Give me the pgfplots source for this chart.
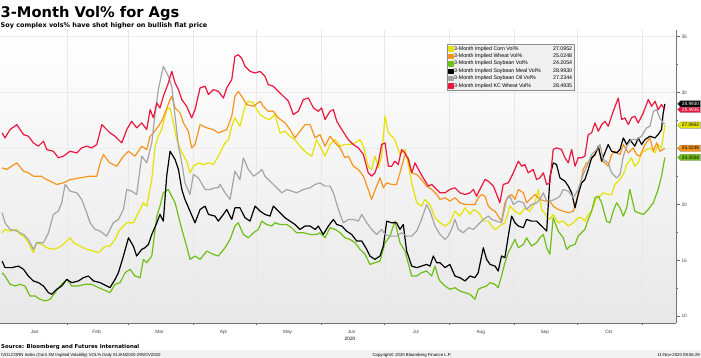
\documentclass[border=0pt]{standalone}
\usepackage{fontspec}
\setmainfont{Liberation Sans}
\newfontfamily\dejavu{DejaVu Sans}
\usepackage{pgfplots}
\pgfplotsset{compat=1.18}
\usetikzlibrary{shapes.symbols}
\definecolor{cornc}{RGB}{228,228,0}
\definecolor{wheatc}{RGB}{247,148,29}
\definecolor{soyc}{RGB}{112,190,24}
\definecolor{mealc}{RGB}{0,0,0}
\definecolor{oilc}{RGB}{165,165,165}
\definecolor{kcc}{RGB}{234,22,62}
\tikzset{tag/.style={signal, signal to=west, anchor=west, inner xsep=1.2bp, inner ysep=0.6bp, minimum height=6.5bp, font=\fontsize{4.8}{5}\selectfont, xshift=1.2bp}}
\begin{document}
\begin{tikzpicture}
\path[use as bounding box] (0,0) rectangle (701bp,-358bp);
\fill[black!5] (0,-349.5bp) rectangle (701bp,-358bp);
\node[anchor=base west, inner sep=0] at (0.5bp,-17bp) {\dejavu\bfseries\fontsize{14.7}{15}\selectfont 3-Month Vol\% for Ags};
\node[anchor=base west, inner sep=0] at (0.5bp,-27.5bp) {\dejavu\bfseries\fontsize{6.5}{7}\selectfont Soy complex vols\% have shot higher on bullish flat price};
\node[anchor=base west, inner sep=0] at (1bp,-348bp) {\dejavu\bfseries\fontsize{5.4}{6}\selectfont Source: Bloomberg and Futures International};
\node[anchor=base west, inner sep=0] at (1bp,-356bp) {\fontsize{4.3}{5}\selectfont IVOLCORN Index (Corn 3M Implied Volatility) VOL\% Daily 01JAN2020-29NOV2020};
\node[anchor=base, inner sep=0] at (412bp,-356bp) {\fontsize{4.3}{5}\selectfont Copyright© 2020 Bloomberg Finance L.P.};
\node[anchor=base east, inner sep=0] at (700bp,-356bp) {\fontsize{4.3}{5}\selectfont 11-Nov-2020 08:56:29};
\node[anchor=base, inner sep=0] at (350bp,-340.5bp) {\fontsize{4.8}{5}\selectfont 2020};
\begin{axis}[
 at={(0bp,-323bp)}, anchor=south west,
 scale only axis, width=676bp, height=293bp,
 xmin=-1, xmax=321, ymin=9.4, ymax=35.6,
 axis x line*=bottom, axis y line*=right,
 axis line style={black!55, line width=0.5bp},
 axis background/.style={top color=white, bottom color=black!9},
 clip=false,
 tick align=outside,
 major tick length=3.5bp, minor tick length=2bp,
 xtick={15.5,45,75,105.5,136,166.5,197,228,258.5,289},
 xticklabels={Jan,Feb,Mar,Apr,May,Jun,Jul,Aug,Sep,Oct},
 major x tick style={draw=none},
 minor xtick={31,60,91,121,152,182,213,244,274,305},
 xminorgrids, minor x grid style={black!9, line width=0.5bp},
 ytick={10,15,20,25,30,35},
 yticklabels={10,15,20,,30,35},
 minor ytick={12.5,17.5,22.5,27.5,32.5},
 ymajorgrids, major y grid style={black!7, line width=0.5bp},
 tick style={black!60, line width=0.5bp},
 ticklabel style={font=\fontsize{4.8}{5}\selectfont, text=black!75},
 /pgf/number format/assume math mode=true,
 yticklabel style={xshift=-1.5bp},
 legend style={at={(0.661,0.951)}, anchor=north west, fill=black!6, draw=black!45, line width=0.5bp,
   font=\fontsize{5.3}{5.6}\selectfont, inner sep=1.4bp, row sep=1.5bp,
   nodes={inner sep=0.3bp}},
 legend cell align=left,
 legend image code/.code={\fill[#1] (0bp,-2.1bp) rectangle (4.2bp,2.1bp);},
 every axis plot/.append style={line width=1.2bp, no markers, line join=round},
]
\addplot[color=cornc] coordinates {(0,17.47)(1.4,17.77)(3.8,17.62)(7.0,17.77)(8.6,17.32)(10.2,17.17)(12.5,16.58)(14.9,15.69)(16.5,16.58)(18.9,16.43)(21.3,16.13)(24.4,15.98)(26.8,16.13)(29.2,16.43)(32.4,17.02)(34.0,16.58)(37.1,16.28)(40.3,15.98)(43.5,15.83)(45.9,15.69)(48.3,16.13)(49.8,16.28)(51.4,16.28)(53.8,16.88)(56.2,17.77)(59.4,18.36)(62.5,18.36)(65.7,19.55)(67.3,20.15)(68.9,19.85)(71.3,22.23)(72.9,25.21)(74.4,26.1)(76.0,26.7)(78.4,28.48)(80.0,28.63)(81.6,27.29)(83.2,25.8)(85.6,24.61)(87.9,23.87)(89.5,22.83)(91.1,23.42)(93.5,23.72)(95.9,23.57)(98.3,23.72)(100.6,23.57)(103.0,24.32)(106.2,25.51)(107.8,25.8)(109.4,26.99)(110.9,27.74)(113.3,26.99)(115.7,28.78)(117.3,29.23)(119.7,29.08)(121.3,28.48)(122.9,28.04)(125.2,27.74)(127.6,27.59)(130.0,28.04)(132.4,26.4)(134.8,26.55)(137.1,26.1)(139.5,25.8)(141.9,25.21)(145.1,24.61)(147.5,24.32)(149.8,25.8)(152.2,24.91)(153.8,24.32)(156.2,25.36)(158.6,25.8)(161.0,25.21)(163.3,25.36)(165.7,25.36)(168.1,25.51)(170.5,25.8)(172.1,25.21)(174.4,23.42)(176.0,23.13)(177.6,24.32)(179.2,23.27)(180.8,24.32)(182.4,27.89)(184.0,26.4)(185.6,26.1)(187.1,25.8)(189.5,24.46)(191.9,24.91)(193.5,23.57)(195.1,21.93)(197.5,20.15)(199.8,19.85)(201.4,20.45)(203.8,20.0)(206.2,18.81)(208.6,18.36)(211.0,18.07)(213.3,18.36)(215.7,19.4)(218.1,18.96)(220.5,19.7)(222.9,19.11)(224.5,19.55)(226.0,19.4)(227.6,19.11)(229.2,18.51)(231.6,18.51)(233.2,18.07)(234.8,17.77)(237.1,18.07)(239.5,18.36)(241.9,19.85)(244.3,19.4)(246.7,19.11)(249.0,19.7)(251.4,19.4)(253.8,20.15)(255.4,21.34)(257.0,19.55)(259.4,18.96)(260.9,18.66)(262.5,19.11)(264.9,18.36)(267.3,18.51)(269.7,18.07)(272.1,18.36)(274.4,18.81)(276.0,18.81)(277.6,18.51)(279.2,19.11)(280.8,19.4)(283.2,20.6)(284.8,20.74)(286.3,21.04)(288.7,20.89)(290.3,20.89)(291.9,21.79)(293.5,22.08)(295.9,22.68)(297.5,23.57)(299.8,24.17)(301.4,23.42)(303.0,23.72)(304.6,24.61)(307.0,24.91)(308.6,25.06)(311.0,24.61)(312.5,25.36)(314.1,25.06)(315.7,27.10)};
\addlegendentry{\makebox[95bp][l]{3-Month Implied Corn Vol\%}\makebox[23bp][r]{27.0952}}
\addplot[color=wheatc] coordinates {(0,23.27)(2.2,23.13)(7.0,23.72)(10.2,22.98)(12.5,22.83)(14.9,22.53)(18.9,22.53)(19.7,22.38)(22.9,22.08)(26.0,21.79)(29.2,21.93)(32.4,22.23)(37.1,22.38)(41.9,22.53)(45.1,22.53)(46.7,23.72)(48.3,24.46)(50.6,23.87)(51.4,23.72)(54.6,23.42)(57.8,24.32)(60.2,24.76)(63.3,24.32)(66.5,25.21)(68.9,24.91)(70.5,26.1)(72.1,26.4)(74.4,26.99)(76.0,27.44)(77.6,28.18)(80.0,29.38)(80.8,29.67)(82.4,28.63)(84.8,28.18)(86.4,27.29)(88.7,26.55)(90.3,25.06)(91.9,25.36)(94.3,27.14)(97.5,26.85)(100.6,26.7)(103.0,26.4)(107.0,26.7)(109.4,27.89)(110.9,29.67)(112.5,30.12)(114.1,29.67)(116.5,28.93)(119.7,28.78)(122.9,29.23)(124.4,28.78)(126.8,28.33)(129.2,28.33)(131.6,27.74)(134.8,27.29)(137.1,26.7)(139.5,25.95)(141.9,26.55)(144.3,27.14)(146.7,27.14)(149.1,25.95)(151.4,26.25)(153.8,25.21)(156.2,26.1)(158.6,25.51)(161.0,25.06)(163.3,24.17)(164.9,24.32)(167.3,23.42)(169.7,23.13)(172.1,22.53)(174.4,21.34)(176.0,20.45)(178.4,21.64)(180.0,22.38)(181.6,21.49)(183.2,21.93)(185.6,21.79)(187.9,21.79)(189.5,22.83)(191.9,24.46)(193.5,24.17)(195.1,22.83)(197.5,22.68)(199.8,22.23)(202.2,21.64)(204.6,21.34)(207.0,20.89)(208.6,20.45)(211.0,20.6)(213.3,20.3)(215.7,20.6)(218.1,20.15)(220.5,20.0)(222.9,20.0)(225.2,20.0)(226.8,20.6)(228.4,20.89)(230.0,20.74)(231.6,19.85)(233.2,19.55)(234.8,19.4)(236.3,18.96)(237.9,18.51)(239.5,20.15)(241.1,20.74)(242.7,20.89)(244.3,20.45)(245.9,21.34)(248.3,21.04)(249.8,20.15)(252.2,20.6)(253.8,20.89)(256.2,20.45)(258.6,20.3)(260.9,20.3)(262.5,19.85)(264.9,19.55)(267.3,19.4)(269.7,19.26)(272.1,19.4)(273.7,20.45)(275.2,21.49)(276.8,23.13)(278.4,23.72)(280.0,23.87)(282.4,24.46)(284.0,25.06)(285.6,23.87)(287.1,23.72)(288.7,23.42)(290.3,24.46)(291.9,24.76)(294.3,24.46)(295.9,25.36)(298.3,24.61)(300.6,25.06)(302.2,24.46)(303.8,24.32)(306.2,25.36)(308.6,25.95)(310.2,24.76)(311.8,25.51)(313.3,24.76)(315.7,25.02)};
\addlegendentry{\makebox[95bp][l]{3-Month Implied Wheat Vol\%}\makebox[23bp][r]{25.0248}}
\addplot[color=soyc] coordinates {(0,13.9)(1.4,13.6)(3.8,12.86)(6.2,12.71)(8.6,12.86)(10.9,12.71)(13.3,11.82)(15.7,11.82)(18.1,11.52)(20.5,11.37)(22.9,11.52)(25.2,12.11)(27.6,12.71)(30.8,13.3)(33.2,12.71)(36.4,12.71)(39.5,12.86)(42.7,12.86)(45.9,12.56)(49.8,12.26)(51.4,12.11)(53.8,12.86)(56.2,13.01)(58.6,13.9)(61.0,14.2)(63.3,13.6)(65.7,13.45)(67.3,15.09)(68.9,14.79)(71.3,15.39)(73.7,18.96)(75.2,19.85)(76.8,21.04)(79.2,21.34)(80.8,20.74)(82.4,20.15)(85.6,17.77)(87.9,16.28)(89.5,15.09)(91.9,15.39)(94.3,15.09)(97.5,15.83)(100.6,15.54)(103.0,15.39)(106.2,16.13)(108.6,16.88)(110.9,18.07)(112.5,18.36)(114.9,17.32)(117.3,17.02)(119.7,17.47)(122.1,17.77)(123.7,18.51)(126.0,18.21)(128.4,18.07)(130.0,18.36)(132.4,18.21)(135.6,18.21)(137.9,17.92)(140.3,17.47)(143.5,17.47)(146.7,17.32)(149.8,17.32)(151.4,17.47)(153.8,17.02)(156.2,17.92)(158.6,17.77)(161.0,17.47)(163.3,17.02)(165.7,16.88)(168.1,16.58)(170.5,15.98)(172.9,15.54)(175.2,14.64)(177.6,14.79)(180.0,14.94)(182.4,16.58)(184.8,17.17)(187.1,18.51)(189.5,16.58)(191.9,15.83)(195.1,13.6)(197.5,13.6)(199.8,13.9)(202.2,14.05)(204.6,13.6)(206.2,14.49)(207.8,13.45)(208.6,13.16)(211.0,12.71)(213.3,12.41)(215.7,12.56)(218.1,12.26)(220.5,12.11)(222.9,11.97)(225.2,11.52)(226.8,12.41)(228.4,12.56)(230.8,12.71)(232.4,13.01)(234.8,12.86)(236.3,12.56)(237.9,13.6)(239.5,14.79)(241.1,15.69)(242.7,16.28)(244.3,16.88)(245.9,16.13)(248.3,16.43)(249.8,17.02)(252.2,16.28)(254.6,16.58)(256.2,17.02)(257.8,17.32)(259.4,16.13)(260.9,15.54)(262.5,18.81)(264.9,17.62)(267.3,17.02)(268.9,15.98)(270.5,16.28)(272.9,16.43)(274.4,17.17)(276.0,17.47)(277.6,17.77)(279.2,18.66)(280.8,19.4)(282.4,20.6)(284.0,20.74)(285.6,20.15)(287.9,18.51)(289.5,18.36)(291.1,19.4)(292.7,20.15)(294.3,19.7)(295.9,18.96)(297.5,19.7)(299.0,21.34)(301.4,19.4)(303.0,19.26)(305.4,19.11)(307.8,19.55)(310.2,20.15)(312.5,21.34)(314.1,22.53)(315.7,24.21)};
\addlegendentry{\makebox[95bp][l]{3-Month Implied Soybean Vol\%}\makebox[23bp][r]{24.2054}}
\addplot[color=mealc] coordinates {(0,14.94)(1.4,14.35)(4.6,14.35)(7.8,14.49)(10.2,14.2)(12.5,13.6)(14.9,13.16)(17.3,13.01)(19.7,12.71)(22.1,12.11)(23.7,11.97)(26.0,12.41)(28.4,12.71)(30.8,13.3)(33.2,13.01)(36.4,13.16)(38.7,13.45)(41.1,13.6)(43.5,13.16)(46.7,13.01)(49.8,12.71)(51.4,12.56)(53.8,13.3)(55.4,13.9)(57.8,15.39)(60.2,17.02)(62.5,16.28)(64.1,15.39)(66.5,15.98)(68.1,16.13)(69.7,16.43)(71.3,17.32)(73.7,18.36)(75.2,19.11)(76.8,18.51)(78.4,22.53)(80.0,24.76)(82.4,24.02)(84.0,23.13)(85.6,21.34)(87.1,20.45)(89.5,19.4)(91.9,18.36)(94.3,19.55)(96.7,19.85)(98.3,19.11)(101.4,18.96)(103.0,18.51)(105.4,19.11)(107.0,19.55)(109.4,18.66)(110.9,19.7)(113.3,19.7)(115.7,18.81)(118.1,18.51)(120.5,19.85)(122.9,19.4)(125.2,19.11)(127.6,18.96)(129.2,19.85)(131.6,19.4)(134.8,18.81)(137.1,18.51)(139.5,18.21)(141.9,17.77)(144.3,18.07)(146.7,18.07)(149.1,17.77)(150.6,18.07)(153.0,17.32)(155.4,18.07)(157.8,18.66)(159.4,18.21)(161.8,18.07)(164.1,17.62)(166.5,17.32)(168.9,16.73)(171.3,16.73)(173.7,15.98)(175.2,15.39)(177.6,15.09)(180.0,15.39)(181.6,16.28)(183.2,18.51)(185.6,18.36)(187.9,18.36)(189.5,17.77)(191.1,18.21)(192.7,15.83)(195.1,14.49)(197.5,14.35)(199.8,14.49)(202.2,14.64)(203.8,14.49)(205.4,15.39)(207.0,14.79)(208.6,14.79)(211.0,14.35)(213.3,14.64)(215.7,13.6)(218.1,13.45)(220.5,13.16)(222.9,13.6)(225.2,13.45)(226.8,13.9)(229.2,16.13)(230.8,15.09)(232.4,14.64)(234.8,14.49)(236.3,14.05)(237.9,15.39)(239.5,15.24)(241.1,17.17)(242.7,18.96)(244.3,18.36)(245.9,18.07)(248.3,17.92)(249.8,18.66)(252.2,18.51)(254.6,18.51)(257.0,18.07)(259.4,17.62)(261.0,22.53)(262.5,23.72)(264.1,23.57)(265.7,22.38)(268.1,22.08)(269.7,21.64)(271.3,21.04)(272.9,19.7)(274.4,20.89)(276.0,21.93)(277.6,22.23)(279.2,23.13)(280.8,24.17)(282.4,24.46)(284.0,25.21)(285.6,23.87)(287.1,24.61)(288.7,25.36)(290.3,24.76)(292.7,24.61)(294.3,24.91)(295.9,25.95)(297.5,25.36)(299.0,25.8)(301.4,25.21)(303.0,25.95)(304.6,25.36)(306.2,25.8)(308.6,26.1)(311.0,25.95)(312.5,26.25)(314.1,26.7)(314.9,28.18)(315.7,28.99)};
\addlegendentry{\makebox[95bp][l]{3-Month Implied Soybean Meal Vol\%}\makebox[23bp][r]{28.9930}}
\addplot[color=oilc] coordinates {(0,19.26)(1.4,18.36)(3.8,17.77)(7.0,17.62)(10.2,17.32)(12.5,16.88)(14.9,15.98)(16.5,16.58)(19.7,16.58)(22.1,17.47)(24.4,19.11)(26.8,19.4)(28.4,20.15)(30.0,21.79)(32.4,21.19)(35.6,21.04)(37.9,20.45)(40.3,19.26)(41.9,18.36)(44.3,17.77)(46.7,17.62)(49.8,17.17)(51.4,17.77)(53.0,18.36)(55.4,18.66)(57.8,19.55)(59.4,21.34)(61.7,21.19)(64.1,20.89)(66.5,24.32)(68.9,23.72)(71.3,25.51)(72.9,28.18)(74.4,30.27)(76.8,32.35)(79.2,31.46)(80.8,30.57)(82.4,27.89)(84.0,25.21)(85.6,23.72)(87.1,21.93)(89.5,20.89)(91.1,22.68)(93.5,22.38)(96.7,21.34)(99.0,21.34)(101.4,21.49)(103.0,21.49)(103.8,21.79)(106.2,21.04)(108.6,20.45)(110.9,22.98)(113.3,22.23)(114.9,24.17)(117.3,23.13)(119.7,22.53)(122.1,22.83)(123.7,23.13)(125.2,22.53)(126.8,22.23)(129.2,21.79)(131.6,21.34)(133.2,21.04)(135.6,21.34)(137.9,21.19)(140.3,21.04)(143.5,21.34)(146.7,21.49)(149.1,21.79)(151.4,21.93)(153.8,21.64)(156.2,21.64)(157.8,21.04)(160.2,19.55)(162.5,18.36)(164.9,18.66)(167.3,18.66)(169.7,18.51)(171.3,19.11)(173.7,18.36)(176.0,17.77)(178.4,17.32)(180.8,17.77)(182.4,17.32)(184.8,17.17)(187.9,17.17)(190.3,17.47)(192.7,17.17)(195.1,17.17)(197.5,17.62)(199.8,18.66)(202.2,20.0)(203.8,19.4)(206.2,18.07)(208.6,17.32)(211.0,16.88)(212.5,17.17)(214.1,17.77)(215.7,18.66)(217.3,17.77)(219.7,17.47)(222.1,17.92)(224.5,17.77)(226.8,18.21)(229.2,18.66)(231.6,18.96)(233.2,18.66)(235.6,18.51)(237.9,18.36)(240.3,20.45)(241.9,20.74)(243.5,20.0)(245.9,20.3)(248.3,20.15)(249.8,19.55)(252.2,20.0)(254.6,20.15)(256.2,20.45)(257.8,21.04)(259.4,20.3)(260.9,20.3)(263.3,20.45)(265.7,20.74)(267.3,21.34)(269.7,21.19)(272.1,20.6)(274.4,21.34)(276.8,22.68)(279.2,23.72)(280.8,24.46)(283.2,24.91)(284.8,25.36)(286.3,24.02)(288.7,23.72)(290.3,22.83)(292.7,22.38)(294.3,22.68)(295.9,24.32)(297.5,25.21)(299.8,25.8)(302.2,25.8)(304.6,26.1)(307.0,26.85)(308.6,26.99)(310.2,28.33)(311.8,28.48)(313.3,27.74)(314.9,27.29)(315.7,27.23)};
\addlegendentry{\makebox[95bp][l]{3-Month Implied Soybean Oil Vol\%}\makebox[23bp][r]{27.2344}}
\addplot[color=kcc] coordinates {(0,26.4)(1.4,25.95)(3.8,26.7)(7.0,27.14)(10.2,26.25)(12.5,26.1)(14.9,25.51)(17.3,25.21)(19.7,25.66)(21.3,24.91)(24.4,24.76)(26.8,24.17)(29.2,24.32)(32.4,24.76)(35.6,24.61)(37.9,25.06)(40.3,25.21)(42.7,25.06)(45.1,25.36)(47.5,27.14)(49.8,26.7)(51.4,26.4)(53.8,26.1)(57.0,25.51)(59.4,26.7)(61.7,27.44)(64.1,26.85)(66.5,27.29)(68.9,26.7)(70.5,28.48)(72.1,27.74)(73.7,29.08)(75.2,28.63)(76.8,29.67)(79.2,30.86)(80.8,31.9)(82.4,30.86)(84.0,30.27)(85.6,29.38)(87.9,28.78)(90.3,27.74)(91.9,28.48)(94.3,30.42)(96.7,30.57)(98.3,29.82)(100.6,30.27)(103.0,30.12)(105.4,29.52)(107.0,30.42)(109.4,31.16)(110.9,33.24)(112.5,33.39)(114.1,33.09)(115.7,32.35)(118.1,31.9)(120.5,31.76)(122.9,31.9)(125.2,31.46)(126.8,30.71)(129.2,30.57)(131.6,30.12)(134.0,29.67)(136.4,29.23)(138.7,28.04)(141.1,28.33)(143.5,29.38)(145.9,29.52)(148.3,28.63)(150.6,28.33)(152.2,28.63)(153.8,27.59)(156.2,28.33)(157.8,28.48)(159.4,27.44)(161.8,26.7)(164.9,25.8)(167.3,25.36)(169.7,25.06)(172.1,24.46)(174.4,22.83)(176.0,22.53)(177.6,22.83)(179.2,23.72)(180.8,25.36)(182.4,25.51)(184.0,23.42)(185.6,23.42)(187.1,23.87)(188.7,23.57)(190.3,24.91)(191.9,24.61)(193.5,24.02)(195.1,22.83)(196.7,23.72)(198.3,23.13)(200.6,22.38)(203.0,21.64)(204.6,21.79)(207.0,21.34)(208.6,21.04)(211.0,21.04)(213.3,21.34)(215.7,21.49)(218.1,21.04)(220.5,20.89)(222.9,21.04)(224.5,21.34)(226.0,20.74)(228.4,21.64)(230.0,22.23)(231.6,22.08)(234.0,21.64)(235.6,20.89)(237.1,20.15)(238.7,21.79)(241.1,21.93)(243.5,22.83)(245.9,23.87)(247.5,23.42)(249.0,23.57)(250.6,22.83)(253.0,23.13)(254.6,22.23)(256.2,22.38)(257.8,22.83)(259.4,21.79)(260.9,21.93)(262.5,24.91)(264.1,25.06)(266.5,24.91)(268.1,24.17)(269.7,23.72)(271.3,24.91)(272.9,23.42)(274.4,24.17)(276.0,24.17)(277.6,24.32)(279.2,26.25)(280.8,26.4)(282.4,27.29)(284.0,26.55)(285.6,27.14)(287.1,27.44)(288.7,26.99)(291.1,28.33)(293.5,29.52)(295.1,27.59)(296.7,27.74)(298.3,27.14)(299.8,27.74)(301.4,27.89)(303.0,27.29)(305.4,28.18)(307.8,29.38)(309.4,28.78)(311.0,29.23)(312.5,28.48)(314.1,28.93)(315.7,28.49)};
\addlegendentry{\makebox[95bp][l]{3-Month Implied KC Wheat Vol\%}\makebox[23bp][r]{28.4935}}
\node[tag, fill=cornc, draw=black!40, line width=0.3bp, text=black] at (axis cs:321,27.0952) {27.0952};
\node[tag, fill=wheatc, draw=black!40, line width=0.3bp, text=black] at (axis cs:321,25.0248) {25.0248};
\node[tag, fill=soyc, draw=black!40, line width=0.3bp, text=black] at (axis cs:321,24.2054) {24.2054};
\node[tag, fill=kcc, draw=black!40, line width=0.3bp, text=white] at (axis cs:321,28.4935) {28.4935};
\node[tag, fill=mealc, draw=black!40, line width=0.3bp, text=white] at (axis cs:321,28.9930) {28.9930};
\end{axis}
\end{tikzpicture}
\end{document}
